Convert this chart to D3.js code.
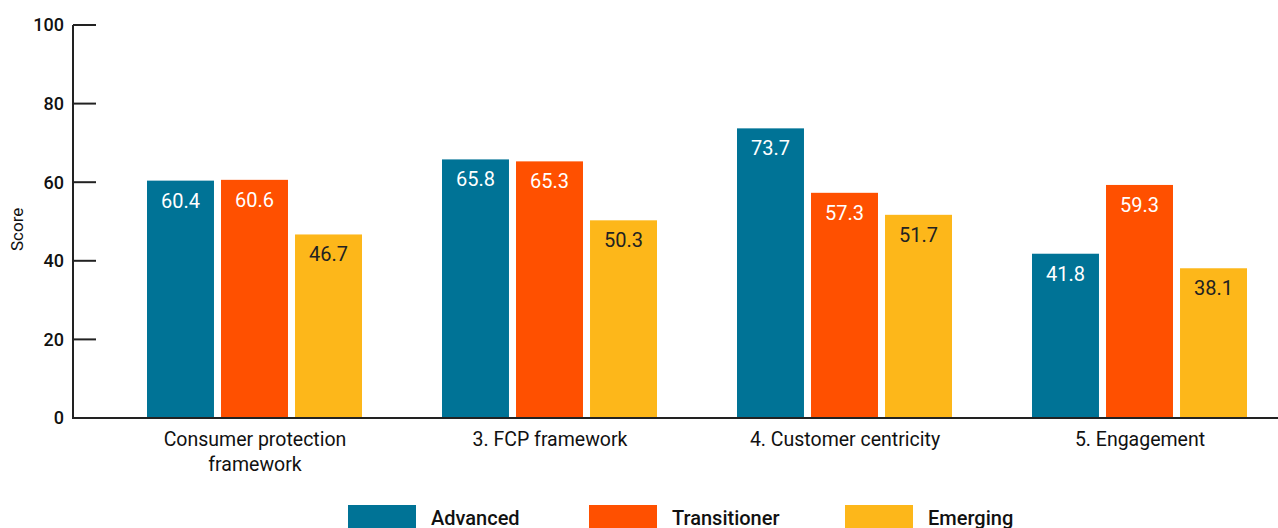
<!DOCTYPE html>
<html>
<head>
  <meta charset="utf-8">
  <title>Scores by group</title>
  <style>
    body { margin: 0; background: #fff; }
    text { font-family: Roboto, "Noto Sans", sans-serif; }
  </style>
</head>
<body>
  <svg width="1278" height="528"></svg>
  <script src="https://d3js.org/d3.v7.min.js"></script>
  <script>
  // data
  var categories = ["Consumer protection framework", "3. FCP framework", "4. Customer centricity", "5. Engagement"];
  var seriesNames = ["Advanced", "Transitioner", "Emerging"];
  var advanced = [60.4, 65.8, 73.7, 41.8];
  var transitioner = [60.6, 65.3, 57.3, 59.3];
  var emerging = [46.7, 50.3, 51.7, 38.1];
  var yTicks = [0, 20, 40, 60, 80, 100];
  var colors = ["#007396", "#ff5000", "#fdb71a"];
  var labelColors = ["#ffffff", "#ffffff", "#222222"];

  var series = [advanced, transitioner, emerging];
  var svg = d3.select("svg");

  var x = d3.scaleBand().domain(categories).range([107, 1287]);
  var xi = d3.scaleBand().domain(seriesNames).range([40, 255]).paddingInner(0.095);
  var y = d3.scaleLinear().domain([0, 100]).range([418, 25]);

  // y axis
  var yAxis = svg.append("g").attr("transform", "translate(73,0)");
  yAxis.append("line").attr("x1", 0).attr("x2", 0).attr("y1", y(100)).attr("y2", y(0))
    .attr("stroke", "#222").attr("stroke-width", 2);
  yAxis.selectAll(".tick").data(yTicks).enter().append("line")
    .attr("x1", 0).attr("x2", 23).attr("y1", function(d) { return y(d); }).attr("y2", function(d) { return y(d); })
    .attr("stroke", "#222").attr("stroke-width", 2);
  yAxis.selectAll(".tl").data(yTicks).enter().append("text")
    .attr("x", -9).attr("y", function(d) { return y(d); })
    .attr("dy", "0.35em").attr("text-anchor", "end")
    .style("font-size", "18px").style("font-weight", "500").style("fill", "#111")
    .text(function(d) { return d; });

  svg.append("text")
    .attr("transform", "translate(23," + y(48) + ") rotate(-90)")
    .attr("text-anchor", "middle")
    .style("font-size", "17px").style("fill", "#111")
    .text("Score");

  // bars
  var groups = svg.selectAll(".grp").data(categories).enter().append("g")
    .attr("transform", function(d) { return "translate(" + x(d) + ",0)"; });

  seriesNames.forEach(function(s, si) {
    groups.append("rect")
      .attr("x", xi(s)).attr("width", xi.bandwidth())
      .attr("y", function(d, i) { return y(series[si][i]); })
      .attr("height", function(d, i) { return y(0) - y(series[si][i]); })
      .attr("fill", colors[si]);
    groups.append("text")
      .attr("x", xi(s) + xi.bandwidth() / 2)
      .attr("y", function(d, i) { return y(series[si][i]) + 27; })
      .attr("text-anchor", "middle")
      .style("font-size", "20px").style("fill", labelColors[si])
      .text(function(d, i) { return series[si][i].toFixed(1); });
  });

  // x axis line
  svg.append("line").attr("x1", 72).attr("x2", 1278).attr("y1", y(0)).attr("y2", y(0))
    .attr("stroke", "#222").attr("stroke-width", 2);

  // category labels
  groups.append("text")
    .attr("x", x.bandwidth() / 2 + 0.5)
    .attr("y", 446)
    .attr("text-anchor", "middle")
    .style("font-size", "19.5px").style("fill", "#111")
    .each(function(d) {
      var t = d3.select(this);
      var lines = d === "Consumer protection framework" ? ["Consumer protection", "framework"] : [d];
      lines.forEach(function(l, li) {
        t.append("tspan").attr("x", x.bandwidth() / 2 + 0.5).attr("dy", li ? 25 : 0).text(l);
      });
    });

  // legend
  var legendX = [348, 589, 845];
  var legend = svg.selectAll(".leg").data(seriesNames).enter().append("g")
    .attr("transform", function(d, i) { return "translate(" + legendX[i] + ",505)"; });
  legend.append("rect").attr("width", 68).attr("height", 24)
    .attr("fill", function(d, i) { return colors[i]; });
  legend.append("text").attr("x", 83).attr("y", 20)
    .style("font-size", "20px").style("font-weight", "500").style("fill", "#111")
    .text(function(d) { return d; });
  </script>
</body>
</html>
